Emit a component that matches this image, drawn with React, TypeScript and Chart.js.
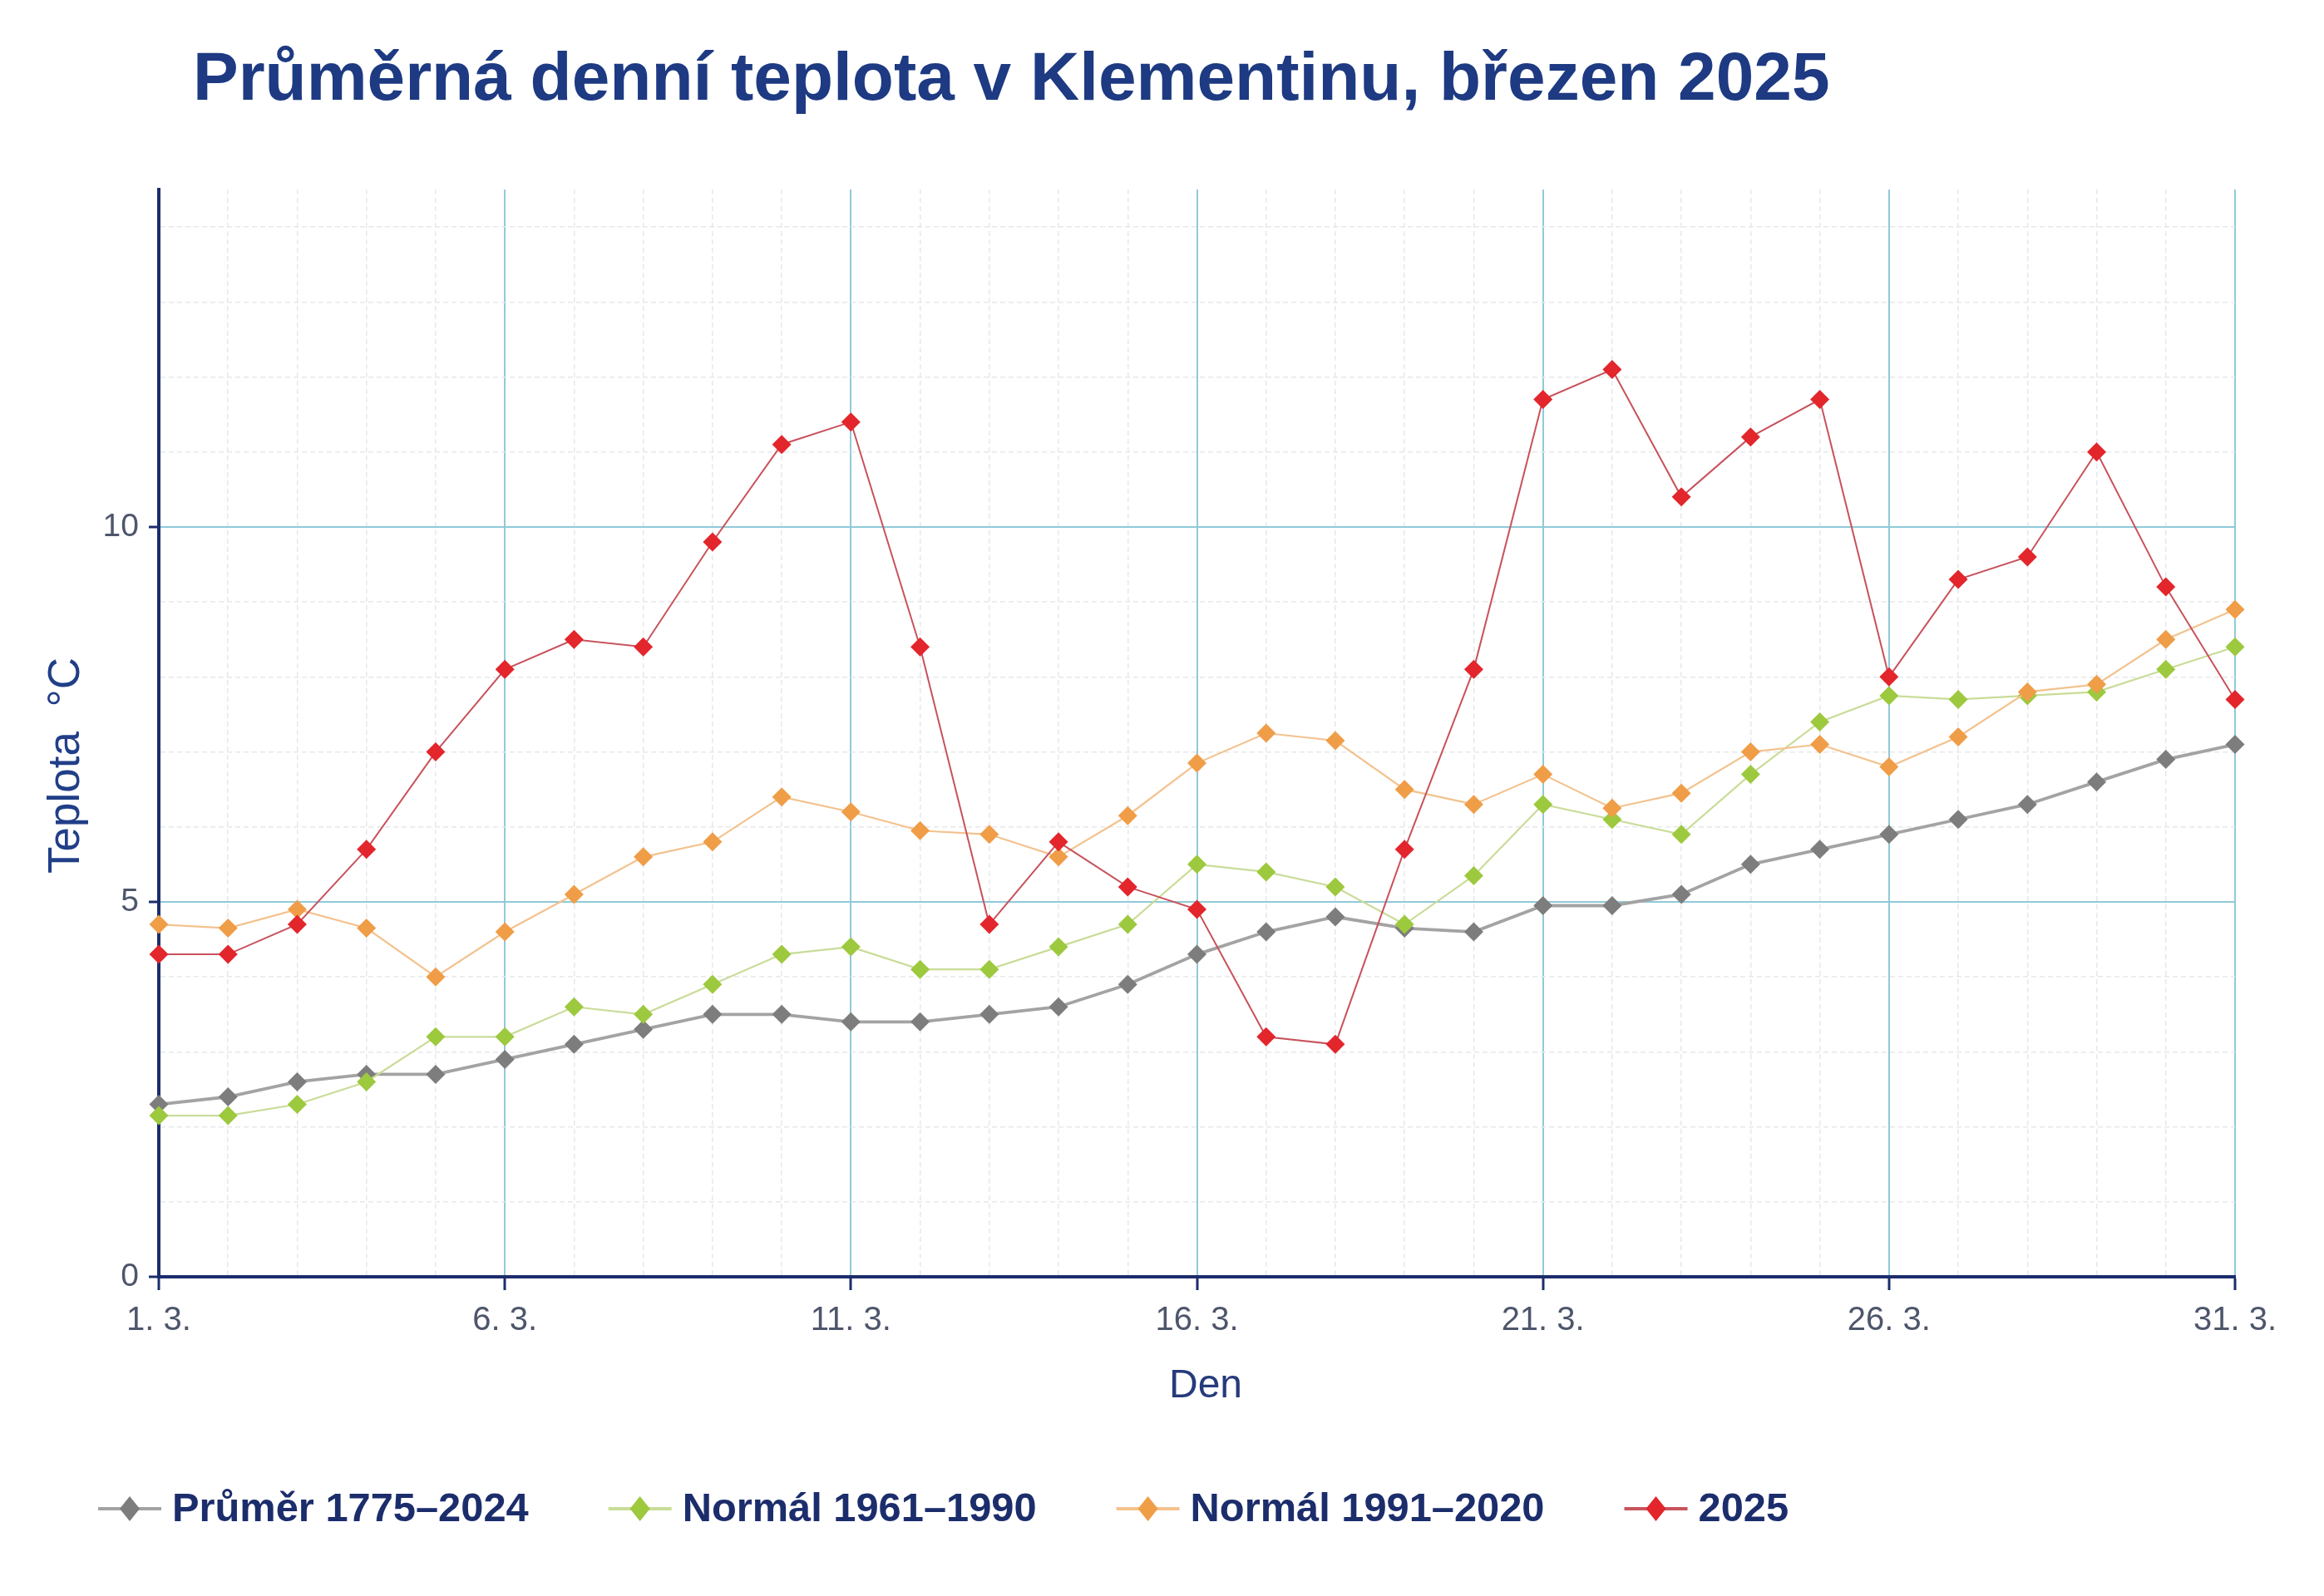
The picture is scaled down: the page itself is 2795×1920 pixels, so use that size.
import { useEffect, useRef } from 'react';
import { Chart, registerables } from 'chart.js';

Chart.register(...registerables);

// Days of March 2025
const dayLabels = [
  '1. 3.', '2. 3.', '3. 3.', '4. 3.', '5. 3.', '6. 3.', '7. 3.', '8. 3.', '9. 3.', '10. 3.',
  '11. 3.', '12. 3.', '13. 3.', '14. 3.', '15. 3.', '16. 3.', '17. 3.', '18. 3.', '19. 3.', '20. 3.',
  '21. 3.', '22. 3.', '23. 3.', '24. 3.', '25. 3.', '26. 3.', '27. 3.', '28. 3.', '29. 3.', '30. 3.',
  '31. 3.',
];

// Daily mean temperature, °C
const prumer1775_2024 = [
  2.3, 2.4, 2.6, 2.7, 2.7, 2.9, 3.1, 3.3, 3.5, 3.5,
  3.4, 3.4, 3.5, 3.6, 3.9, 4.3, 4.6, 4.8, 4.65, 4.6,
  4.95, 4.95, 5.1, 5.5, 5.7, 5.9, 6.1, 6.3, 6.6, 6.9,
  7.1,
];
const normal1961_1990 = [
  2.15, 2.15, 2.3, 2.6, 3.2, 3.2, 3.6, 3.5, 3.9, 4.3,
  4.4, 4.1, 4.1, 4.4, 4.7, 5.5, 5.4, 5.2, 4.7, 5.35,
  6.3, 6.1, 5.9, 6.7, 7.4, 7.75, 7.7, 7.75, 7.8, 8.1,
  8.4,
];
const normal1991_2020 = [
  4.7, 4.65, 4.9, 4.65, 4.0, 4.6, 5.1, 5.6, 5.8, 6.4,
  6.2, 5.95, 5.9, 5.6, 6.15, 6.85, 7.25, 7.15, 6.5, 6.3,
  6.7, 6.25, 6.45, 7.0, 7.1, 6.8, 7.2, 7.8, 7.9, 8.5,
  8.9,
];
const rok2025 = [
  4.3, 4.3, 4.7, 5.7, 7.0, 8.1, 8.5, 8.4, 9.8, 11.1,
  11.4, 8.4, 4.7, 5.8, 5.2, 4.9, 3.2, 3.1, 5.7, 8.1,
  11.7, 12.1, 10.4, 11.2, 11.7, 8.0, 9.3, 9.6, 11.0, 9.2,
  7.7,
];

const seriesNames = ['Průměr 1775–2024', 'Normál 1961–1990', 'Normál 1991–2020', '2025'];
const yTickLabels = [0, 5, 10];

const W = 2795;
const H = 1920;
const AREA = { left: 191, right: 2688, top: 228, bottom: 1536 };

const FONT = '"Liberation Sans", Arial, Helvetica, sans-serif';
const NAVY = '#1c2d6c';
const TITLE_BLUE = '#1d3a82';
const TICK_COLOR = '#4e566c';
const MAJOR_GRID = '#8fcad8';
const MINOR_GRID = '#e6e8ea';

const lineColors = ['#a3a3a3', '#c9dc98', '#f3c28e', '#c8525c'];
const markerColors = ['#7d7d7d', '#9dc93e', '#f09d48', '#e2262c'];
const lineWidths = [3.8, 2.2, 2.2, 2.0];

const overlayPlugin = {
  id: 'textOverlay',
  afterDraw(chart: any) {
    const ctx: CanvasRenderingContext2D = chart.ctx;
    ctx.save();

    // chart title
    ctx.fillStyle = TITLE_BLUE;
    ctx.font = `bold 82px ${FONT}`;
    ctx.textAlign = 'left';
    ctx.textBaseline = 'alphabetic';
    ctx.fillText('Průměrná denní teplota v Klementinu, březen 2025', 232, 120);

    // x axis title
    ctx.fillStyle = '#263a7c';
    ctx.font = `48px ${FONT}`;
    ctx.textAlign = 'center';
    ctx.textBaseline = 'middle';
    ctx.fillText('Den', 1450, 1668);

    // y axis title
    ctx.save();
    ctx.translate(80, 921);
    ctx.rotate(-Math.PI / 2);
    ctx.fillStyle = '#213f88';
    ctx.font = `53px ${FONT}`;
    ctx.fillText('Teplota  °C', 0, 0);
    ctx.restore();

    // legend
    let x = 118;
    const y = 1815;
    ctx.font = `bold 48.8px ${FONT}`;
    ctx.textAlign = 'left';
    ctx.textBaseline = 'middle';
    chart.data.datasets.forEach((ds: any) => {
      ctx.strokeStyle = ds.borderColor;
      ctx.lineWidth = 4;
      ctx.beginPath();
      ctx.moveTo(x, y);
      ctx.lineTo(x + 76, y);
      ctx.stroke();
      const cx = x + 38;
      const r = 15;
      ctx.fillStyle = ds.pointBackgroundColor;
      ctx.beginPath();
      ctx.moveTo(cx, y - r);
      ctx.lineTo(cx + r * 0.8, y);
      ctx.lineTo(cx, y + r);
      ctx.lineTo(cx - r * 0.8, y);
      ctx.closePath();
      ctx.fill();
      ctx.fillStyle = NAVY;
      ctx.fillText(ds.label, x + 89, y + 2);
      x += 89 + ctx.measureText(ds.label).width + 96;
    });

    ctx.restore();
  },
};

export default function App() {
  const canvasRef = useRef<HTMLCanvasElement | null>(null);

  useEffect(() => {
    const canvas = canvasRef.current;
    if (!canvas) return;
    const series = [prumer1775_2024, normal1961_1990, normal1991_2020, rok2025];

    const chart = new Chart(canvas, {
      type: 'line',
      data: {
        labels: dayLabels,
        datasets: series.map((values, i) => ({
          label: seriesNames[i],
          data: values,
          borderColor: lineColors[i],
          borderWidth: lineWidths[i],
          pointStyle: 'rectRot',
          pointRadius: 11.5,
          pointHoverRadius: 11.5,
          pointBackgroundColor: markerColors[i],
          pointBorderColor: markerColors[i],
          pointBorderWidth: 0,
          tension: 0,
          fill: false,
          clip: false as any,
          order: 4 - i,
        })),
      },
      options: {
        responsive: false,
        animation: false,
        devicePixelRatio: 1,
        layout: {
          padding: { left: 0, top: AREA.top, right: W - AREA.right, bottom: 0 },
        },
        plugins: {
          legend: { display: false },
          title: { display: false },
          tooltip: { enabled: false },
        },
        scales: {
          x: {
            type: 'category',
            offset: false,
            grid: {
              color: (c: any) => (c.index % 5 === 0 ? MAJOR_GRID : MINOR_GRID),
              lineWidth: (c: any) => (c.index % 5 === 0 ? 2 : 1.5),
              tickColor: (c: any) => (c.index % 5 === 0 ? NAVY : 'rgba(0,0,0,0)'),
              tickLength: 16,
              tickWidth: 3,
            },
            border: {
              color: NAVY,
              width: 4,
              dash: (c: any) => (c.index !== undefined && c.index % 5 !== 0 ? [6, 4] : []),
            },
            ticks: {
              autoSkip: false,
              maxRotation: 0,
              minRotation: 0,
              padding: 13,
              color: TICK_COLOR,
              font: { family: FONT, size: 40 },
              callback: (_v: any, i: number) => (i % 5 === 0 ? dayLabels[i] : ''),
            },
            afterFit: (s: any) => {
              s.height = H - AREA.bottom;
            },
          },
          y: {
            min: 0,
            max: 14.5,
            grid: {
              color: (c: any) => (c.tick && c.tick.value % 5 === 0 ? MAJOR_GRID : MINOR_GRID),
              lineWidth: (c: any) => (c.tick && c.tick.value % 5 === 0 ? 2 : 1.5),
              tickColor: (c: any) => (c.tick && c.tick.value % 5 === 0 ? NAVY : 'rgba(0,0,0,0)'),
              tickLength: 12,
              tickWidth: 3,
            },
            border: {
              color: NAVY,
              width: 4,
              dash: (c: any) => (c.tick && c.tick.value % 5 !== 0 ? [6, 4] : []),
            },
            ticks: {
              stepSize: 1,
              includeBounds: false,
              padding: 12,
              color: TICK_COLOR,
              font: { family: FONT, size: 39 },
              callback: (v: any) => (yTickLabels.includes(Number(v)) ? String(v) : ''),
            },
            afterFit: (s: any) => {
              s.width = AREA.left;
            },
          },
        },
      },
      plugins: [overlayPlugin],
    });

    return () => chart.destroy();
  }, []);

  return (
    <div style={{ position: 'absolute', left: 0, top: 0, width: W, height: H, background: '#ffffff' }}>
      <canvas ref={canvasRef} width={W} height={H} style={{ width: W, height: H, display: 'block' }} />
    </div>
  );
}
